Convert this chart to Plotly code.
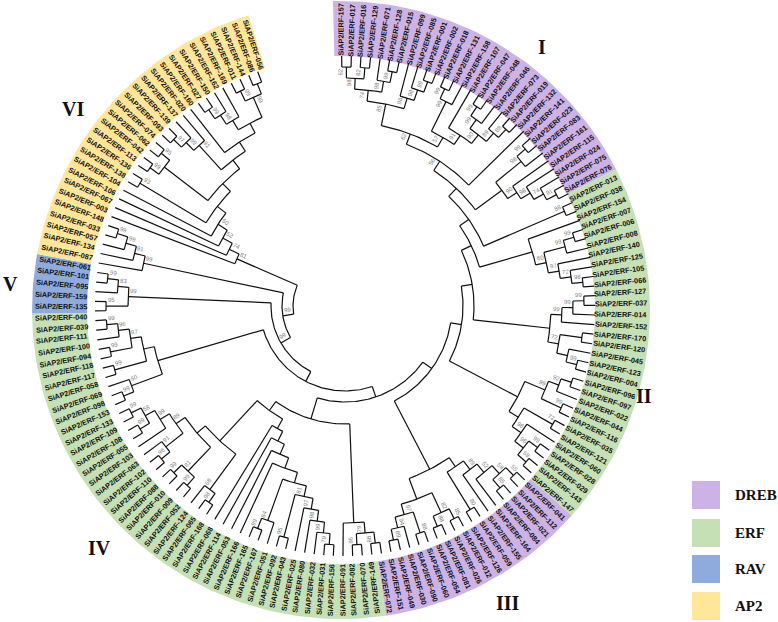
import plotly.graph_objects as go
import math

# clade trees, clockwise from the top: (support, child, child), leaves are the gene numbers
i_a = (74, (98, (62, "157", "017"), (82, "016", "129")), (98, "071", (99, "128", "015")))
i_b = (98, "099", (98, "085", (99, "001", "002")))
i_c = (57, (99, (99, "018", "131"), "158"),
       (91, "107", (90, (99, (99, "047", "048"), "046"), (89, "073", (88, "019", "132")))))
i_top = (56, (62, (85, i_a, i_b), i_c), "141")
i_low = (None, (98, (99, "023", "083"), "161"), (90, "115", (98, "024", (74, "075", (91, "076", "013")))))

ii_a = (None, "007", (60, (99, (99, "006", "008"), "140"), (97, "125", (72, "105", (98, "066", "127")))))
ii_b = (None, (99, (99, (99, "037", "014"), "152"), "170"),
        (72, (None, "120", "045"), (None, "123", (99, "004", "096"))))
ii_c = (None, (99, (92, (None, "097", "022"), "044"), (99, "116", "035")),
        (None, (72, "121", "060"), (98, "028", (96, (99, "029", "143"), (58, "147", "041")))))

iii_a = (None, (89, (52, (58, (55, "112", "021"), (85, "084", "164")), "155"), "059"), (80, "126", "012"))
iii_b = (None, (82, (85, "026", "081"), (88, "054", "060")),
         (97, (88, "090", "030"), (94, "049", (89, "151", "072"))))

iv_m = (None, (79, (88, "149", "070"), (96, "082", "091")), "156")
iv_l = (99, (79, "031", "032"), "080")
iv_l = (81, (97, (98, iv_l, "025"), "043"), (95, "092", "051"))
iv_l = (None, (None, (None, (None, (None, iv_l, (84, "167", (99, "165", "166"))), "053"), "114"), "068"), "168")
iv_o = (None, (68, (98, "065", "124"), "052"),
        (None, (81, (99, "009", "010"), (99, "088", "110")),
         (89, (91, (96, "102", "063"), "103"), (99, "055", (58, (99, "108", "109"), (99, "133", "153"))))))
iv_g = (None, (60, (99, "098", "069"), "058"),
        (None, (99, "117", "118"), (87, (99, "094", "100"), (96, "111", (99, "039", "040")))))

v_t = (99, (95, "135", "159"), (83, "095", (99, "101", "061")))
v_w = (99, "087", (91, "134", (99, "057", (99, "033", "148"))))

vi_a = (91, (99, (97, "093", "139"), "137"), "020")
vi_b = (None, (None, (98, (99, "027", "150"), "162"), "169"), (99, (99, "011", "144"), (None, "086", "056")))
vi = (None, (None, (99, "113", "042"), (95, "062", "074")), (None, vi_a, (None, "160", vi_b)))
vi = (81, "003", (74, "067", (52, "106", (50, "104", (None, (93, "138", "136"), vi)))))

# backbone, one level per step from the crown of clade I down to the root on the left
tree = (None, (None, i_top, i_low), (88, "038", "154"))
tree = (None, tree, ii_a)
tree = (None, tree, ii_b)
tree = (None, tree, ii_c)
tree = (None, tree, (None, iii_a, iii_b))
tree = (None, tree, (None, iv_m, (None, iv_l, iv_o)))
tree = (None, tree, iv_g)
tree = (99, tree, v_t)
tree = (99, tree, v_w)
tree = (None, tree, vi)

group_sizes = [29, 31, 18, 44, 5, 28]
group_colors = ["#CDB2E6", "#C5E0B4", "#CDB2E6", "#C5E0B4", "#8FAADC", "#FFE699"]
roman = ["I", "II", "III", "IV", "V", "VI"]
roman_x = [542, 644, 508, 99, 10, 73]
roman_y = [47, 396, 603, 548, 284, 109]

legend_names = ["DREB", "ERF", "RAV", "AP2"]
legend_colors = ["#CDB2E6", "#C5E0B4", "#8FAADC", "#FFE699"]
legend_top = [481, 519, 555, 592]

# the tree and the coloured ring are not quite on the same centre in the original
TREE_X, TREE_Y = 345, 306
RING_X, RING_Y = 341, 310
TIP_R, LEVEL = 250, 11
TIP_START, TIP_STEP = -0.76, 2.21
RING_START, RING_STEP = -1.5, 2.22
RING_IN, RING_OUT = 254, 309
TEXT_R = 280
FLIP_AT = 78  # labels read the other way round from here on


def polar(cx, cy, r, deg):
    a = math.radians(deg)
    return cx + r * math.sin(a), cy - r * math.cos(a)


xs, ys = [], []
leaves = []
notes = []


def add_line(points):
    for x, y in points:
        xs.append(x)
        ys.append(y)
    xs.append(None)
    ys.append(None)


def walk(node):
    # returns angle and height of the node
    if isinstance(node, str):
        leaves.append(node)
        return TIP_START + (len(leaves) - 1) * TIP_STEP, 0, len(leaves) - 1
    kids = [walk(k) for k in node[1:]]
    h = max(k[1] for k in kids) + 1
    r = TIP_R - h * LEVEL
    first, last = kids[0][0], kids[-1][0]
    mid = (first + last) / 2
    n = max(int(abs(last - first)) + 2, 3)
    add_line([polar(TREE_X, TREE_Y, r, first + (last - first) * j / n) for j in range(n + 1)])
    for k in kids:
        add_line([polar(TREE_X, TREE_Y, r, k[0]), polar(TREE_X, TREE_Y, TIP_R - k[1] * LEVEL, k[0])])
    if node[0] is not None:
        notes.append((node[0], r, mid, kids[-1][2]))
    return mid, h, kids[-1][2]


walk(tree)
assert len(leaves) == 155

fig = go.Figure()

pos = 0
for size, color in zip(group_sizes, group_colors):
    a0 = RING_START + pos * RING_STEP
    a1 = RING_START + (pos + size) * RING_STEP
    n = size * 2
    outer = [polar(RING_X, RING_Y, RING_OUT, a0 + (a1 - a0) * j / n) for j in range(n + 1)]
    inner = [polar(RING_X, RING_Y, RING_IN, a1 - (a1 - a0) * j / n) for j in range(n + 1)]
    pts = outer + inner + outer[:1]
    fig.add_trace(go.Scatter(x=[p[0] for p in pts], y=[p[1] for p in pts], mode="lines",
                             fill="toself", fillcolor=color, line=dict(width=0), hoverinfo="skip"))
    pos += size

fig.add_trace(go.Scatter(x=xs, y=ys, mode="lines", line=dict(color="#111111", width=1.2), hoverinfo="skip"))

annotations = []
for i, name in enumerate(leaves):
    deg = RING_START + (i + 0.5) * RING_STEP + 0.3
    x, y = polar(RING_X, RING_Y, TEXT_R, deg)
    annotations.append(dict(x=x, y=y, text="<b>SiAP2/ERF-" + name + "</b>", showarrow=False, borderpad=0,
                            textangle=deg - 90 if i < FLIP_AT else deg - 270,
                            font=dict(family="Liberation Sans", size=7.3, color="#111111")))

for value, r, deg, last_leaf in notes:
    right = last_leaf < FLIP_AT
    shift = math.degrees(6 / r)
    d = deg - shift if right else deg + shift
    x, y = polar(TREE_X, TREE_Y, r - 5, d)
    annotations.append(dict(x=x, y=y, text=str(value), showarrow=False, borderpad=0,
                            textangle=deg - 90 if right else deg - 270,
                            font=dict(family="Liberation Sans", size=6, color="#808080")))

for label, x, y in zip(roman, roman_x, roman_y):
    annotations.append(dict(x=x, y=y, text="<b>" + label + "</b>", showarrow=False,
                            font=dict(family="Liberation Serif", size=20, color="#111111")))

shapes = []
for name, color, top in zip(legend_names, legend_colors, legend_top):
    shapes.append(dict(type="rect", x0=692, x1=720, y0=top, y1=top + 28, fillcolor=color, line=dict(width=0)))
    annotations.append(dict(x=733, y=top + 14, text="<b>" + name + "</b>", showarrow=False, xanchor="left",
                            font=dict(family="Liberation Serif", size=15, color="#111111")))

fig.update_layout(width=778, height=622, margin=dict(l=0, r=0, t=0, b=0),
                  paper_bgcolor="white", plot_bgcolor="white", showlegend=False,
                  xaxis=dict(range=[0, 778], visible=False),
                  yaxis=dict(range=[622, 0], visible=False),
                  annotations=annotations, shapes=shapes)

fig.write_html("out.html", config={"displayModeBar": False},
               post_script="document.body.style.margin='0';")
